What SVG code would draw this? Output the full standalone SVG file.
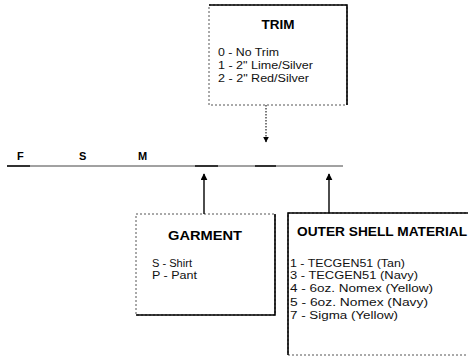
<svg xmlns="http://www.w3.org/2000/svg" width="468" height="356" viewBox="0 0 468 356">
<style>
.t{font-family:"Liberation Sans",Arial,sans-serif;font-weight:bold;font-size:12px;fill:#000}
.l{font-family:"Liberation Sans",Arial,sans-serif;font-size:10px;fill:#111}
.c{font-family:"Liberation Sans",Arial,sans-serif;font-weight:bold;font-size:11px;fill:#000}
.soft{fill:none;stroke:#555;stroke-width:1;stroke-dasharray:2 2}
.hard{fill:none;stroke:#000;stroke-width:1.6}
.con{fill:none;stroke:#000;stroke-width:1.4}
</style>
<defs>
<marker id="ah" viewBox="0 0 10 10" refX="9" refY="5" markerWidth="5" markerHeight="5" orient="auto-start-reverse">
<path d="M0,0 L10,5 L0,10 z" fill="#000"/>
</marker>
</defs>
<rect width="468" height="356" fill="#fff"/>
<g id="code">
<text class="c" x="17" y="160">F</text>
<text class="c" x="79" y="160">S</text>
<text class="c" x="138" y="160">M</text>
<line x1="7" y1="166" x2="343" y2="166" stroke="#444" stroke-width="1"/>
<line x1="7" y1="166" x2="30" y2="166" stroke="#000" stroke-width="1.4"/>
<line x1="195" y1="166" x2="218" y2="166" stroke="#000" stroke-width="1.4"/>
<line x1="255" y1="166" x2="276" y2="166" stroke="#000" stroke-width="1.4"/>
</g>
<g id="trim">
<rect class="soft" x="209" y="5" width="138" height="100"/>
<path class="hard" d="M209,5 H347 V105"/>
<text class="t" x="278" y="29" text-anchor="middle" textLength="33" lengthAdjust="spacingAndGlyphs">TRIM</text>
<text class="l" x="218" y="56" textLength="61" lengthAdjust="spacingAndGlyphs">0 - No Trim</text>
<text class="l" x="218" y="69" textLength="95" lengthAdjust="spacingAndGlyphs">1 - 2" Lime/Silver</text>
<text class="l" x="218" y="82" textLength="91" lengthAdjust="spacingAndGlyphs">2 - 2" Red/Silver</text>
</g>
<g id="garment">
<rect class="soft" x="136" y="214" width="139" height="101"/>
<path class="hard" d="M275,214 V315 H136"/>
<text class="t" x="205" y="240" text-anchor="middle" textLength="74" lengthAdjust="spacingAndGlyphs">GARMENT</text>
<text class="l" x="152" y="267" textLength="40" lengthAdjust="spacingAndGlyphs">S - Shirt</text>
<text class="l" x="152" y="279" textLength="45" lengthAdjust="spacingAndGlyphs">P - Pant</text>
</g>
<g id="outer-shell">
<rect class="soft" x="288" y="213" width="182" height="142"/>
<path class="hard" d="M288,355 V213 H470"/>
<text class="t" x="297" y="236" textLength="170" lengthAdjust="spacingAndGlyphs">OUTER SHELL MATERIAL</text>
<text class="l" x="290" y="267" textLength="115" lengthAdjust="spacingAndGlyphs">1 - TECGEN51 (Tan)</text>
<text class="l" x="290" y="279" textLength="128" lengthAdjust="spacingAndGlyphs">3 - TECGEN51 (Navy)</text>
<text class="l" x="290" y="292" textLength="143" lengthAdjust="spacingAndGlyphs">4 - 6oz. Nomex (Yellow)</text>
<text class="l" x="290" y="306" textLength="138" lengthAdjust="spacingAndGlyphs">5 - 6oz. Nomex (Navy)</text>
<text class="l" x="290" y="319" textLength="108" lengthAdjust="spacingAndGlyphs">7 - Sigma (Yellow)</text>
</g>
<g id="connectors">
<line x1="266" y1="105" x2="266" y2="142" stroke="#222" stroke-width="1.2" stroke-dasharray="1.5 1.5" marker-end="url(#ah)"/>
<line class="con" x1="204" y1="214" x2="204" y2="174" marker-end="url(#ah)"/>
<line class="con" x1="329" y1="213" x2="329" y2="174" marker-end="url(#ah)"/>
</g>
</svg>
